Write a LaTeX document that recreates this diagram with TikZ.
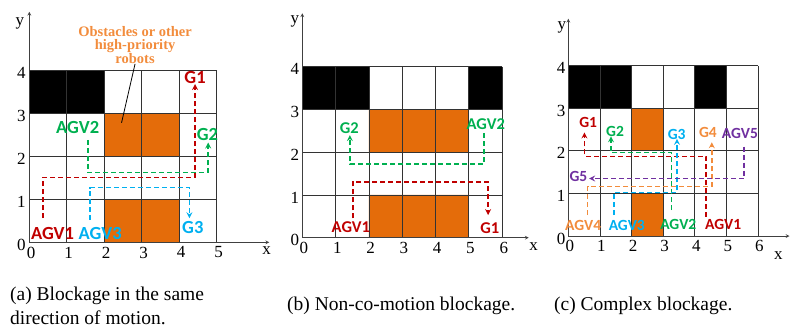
\documentclass[tikz,border=0pt]{standalone}
\usepackage{fontspec}
\setmainfont{Liberation Serif}
\newfontfamily\lblfont{Carlito}
\usepackage{tikz}
\definecolor{figR}{RGB}{192,0,0}
\definecolor{figG}{RGB}{0,176,80}
\definecolor{figB}{RGB}{0,176,240}
\definecolor{figO}{RGB}{242,140,60}
\definecolor{figP}{RGB}{112,48,160}
\definecolor{obst}{RGB}{228,108,10}
\tikzset{
  route/.style={line width=1.6pt,dash pattern=on 5pt off 3pt},
  agvtag/.style={inner sep=0pt,font=\lblfont\bfseries\fontsize{\tagpt}{\tagpt}\selectfont},
  tick/.style={inner sep=0pt,font=\fontsize{17}{17}\selectfont},
  cell/.style={draw=black!80,line width=0.7pt},
  axis/.style={draw=black!75,line width=0.7pt,->},
  caption/.style={inner sep=0pt,anchor=west,align=left,font=\fontsize{19.5}{24}\selectfont}
}

\begin{document}
\begin{tikzpicture}[>=stealth]
\useasboundingbox (0,0) rectangle (794pt,-333pt);

% (a) same direction
\begin{scope}[shift={(29.3pt,-242.3pt)},x=37.5pt,y=43pt]
\def\tagpt{18.5}
\fill (0,3) rectangle (2,4);
\fill[obst] (2,2) rectangle (4,3) (2,0) rectangle (4,1);
\draw[cell,step=1] (0,0) grid (5,4);
\draw[axis] (0,0) -- (6.4,0);
\draw[axis] (0,0) -- (0,5.36);
\node[tick] (axa) at (6.33,-0.2) {x};
\node[tick] (aya) at (-0.25,5.08) {y};
\foreach \i in {0,...,5} \node[tick,anchor=north] (axa\i) at (\i+0.05,-0.1) {\i};
\foreach \j in {0,...,4} \node[tick,anchor=east] (aya\j) at (-0.09,\j-0.06) {\j};
\node[inner sep=0pt,align=center,text=figO,font=\bfseries\fontsize{14.5}{13}\selectfont] (obsta) at (2.82,4.59) {Obstacles or other\\high-priority\\robots};
\coordinate (obstpt) at (2.46,2.78);
\draw[thick] (obsta.south) -- (obstpt);
\coordinate (a1s) at (0.37,0.56); \coordinate (a1e) at (4.42,3.68);
\coordinate (a2s) at (1.57,2.38); \coordinate (a2e) at (4.77,2.32);
\coordinate (a3s) at (1.62,0.52); \coordinate (a3e) at (4.27,0.56);
\draw[route,figR,->] (a1s) |- (4.42,1.51) -- (a1e);
\draw[route,figG,->] (a2s) |- (4.77,1.62) -- (a2e);
\draw[route,figB,->] (a3s) |- (4.27,1.27) -- (a3e);
\node[agvtag,figR] (agva1) at (0.62,0.2) {AGV1};
\node[agvtag,figB] (agva3) at (1.89,0.2) {AGV3};
\node[agvtag,figG] (agva2) at (1.29,2.67) {AGV2};
\node[agvtag,figR] (ga1) at (4.42,3.84) {G1};
\node[agvtag,figG] (ga2) at (4.75,2.51) {G2};
\node[agvtag,figB] (ga3) at (4.36,0.34) {G3};
\end{scope}

% (b) non-co-motion
\begin{scope}[shift={(302.3pt,-237.7pt)},x=33.3pt,y=42.75pt]
\def\tagpt{16.5}
\fill (0,3) rectangle (2,4) (5,3) rectangle (6,4);
\fill[obst] (2,2) rectangle (5,3) (2,0) rectangle (5,1);
\draw[cell,step=1] (0,0) grid (6,4);
\draw[axis] (0,0) -- (6.8,0);
\draw[axis] (0,0) -- (0,5.25);
\node[tick] (axb) at (6.95,-0.2) {x};
\node[tick] (ayb) at (-0.22,5.05) {y};
\foreach \i in {0,...,6} \node[tick,anchor=north] (axb\i) at (\i+0.05,-0.1) {\i};
\foreach \j in {0,...,4} \node[tick,anchor=east] (ayb\j) at (-0.09,\j-0.06) {\j};
\coordinate (b1s) at (1.53,0.45); \coordinate (b1e) at (5.58,0.53);
\coordinate (b2s) at (5.46,2.44); \coordinate (b2e) at (1.43,2.40);
\draw[route,figR,->] (b1s) |- (5.58,1.31) -- (b1e);
\draw[route,figG,->] (b2s) |- (1.43,1.72) -- (b2e);
\node[agvtag,figR] (agvb1) at (1.46,0.24) {AGV1};
\node[agvtag,figR] (gb1) at (5.63,0.22) {G1};
\node[agvtag,figG] (gb2) at (1.41,2.57) {G2};
\node[agvtag,figG] (agvb2) at (5.51,2.66) {AGV2};
\end{scope}

% (c) complex
\begin{scope}[shift={(568.3pt,-236pt)},x=31.6pt,y=42.6pt]
\def\tagpt{15.5}
\fill (0,3) rectangle (2,4) (4,3) rectangle (5,4);
\fill[obst] (2,2) rectangle (3,3) (2,0) rectangle (3,1);
\draw[cell,step=1] (0,0) grid (6,4);
\draw[axis] (0,0) -- (7.0,0);
\draw[axis] (0,0) -- (0,5.1);
\node[tick] (axc) at (6.65,-0.45) {x};
\node[tick] (ayc) at (-0.2,4.9) {y};
\foreach \i in {0,...,6} \node[tick,anchor=north] (axc\i) at (\i+0.05,-0.1) {\i};
\foreach \j in {0,...,4} \node[tick,anchor=east] (ayc\j) at (-0.09,\j-0.06) {\j};
\coordinate (c1s) at (4.36,0.45); \coordinate (c1e) at (0.51,2.43);
\coordinate (c2s) at (3.27,0.61); \coordinate (c2e) at (1.35,2.34);
\coordinate (c3s) at (1.44,0.49); \coordinate (c3e) at (3.44,2.28);
\coordinate (c4s) at (0.61,0.49); \coordinate (c4e) at (4.54,2.2);
\coordinate (c5s) at (5.56,2.1);  \coordinate (c5e) at (0.66,1.35);
\draw[route,figR,->] (c1s) |- (0.51,1.87) -- (c1e);
\draw[route,figG,->] (c2s) |- (1.35,1.96) -- (c2e);
\draw[route,figB,->] (c3s) |- (3.44,1.02) -- (c3e);
\draw[route,figO,->] (c4s) |- (4.54,1.16) -- (c4e);
\draw[route,figP,->] (c5s) |- (c5e);
\node[agvtag,figR] (gc1) at (0.63,2.66) {G1};
\node[agvtag,figG] (gc2) at (1.48,2.46) {G2};
\node[agvtag,figB] (gc3) at (3.43,2.39) {G3};
\node[agvtag,figO] (gc4) at (4.42,2.42) {G4};
\node[agvtag,figP] (agvc5) at (5.43,2.41) {AGV5};
\node[agvtag,figP] (gc5) at (0.32,1.39) {G5};
\node[agvtag,figO] (agvc4) at (0.47,0.24) {AGV4};
\node[agvtag,figB] (agvc3) at (1.85,0.24) {AGV3};
\node[agvtag,figG] (agvc2) at (3.48,0.27) {AGV2};
\node[agvtag,figR] (agvc1) at (4.9,0.27) {AGV1};
\end{scope}

\node[caption] (capa) at (10pt,-306pt) {(a) Blockage in the same\\direction of motion.};
\node[caption] (capb) at (287pt,-306pt) {(b) Non-co-motion blockage.};
\node[caption] (capc) at (554pt,-306pt) {(c) Complex blockage.};
\end{tikzpicture}
\end{document}
